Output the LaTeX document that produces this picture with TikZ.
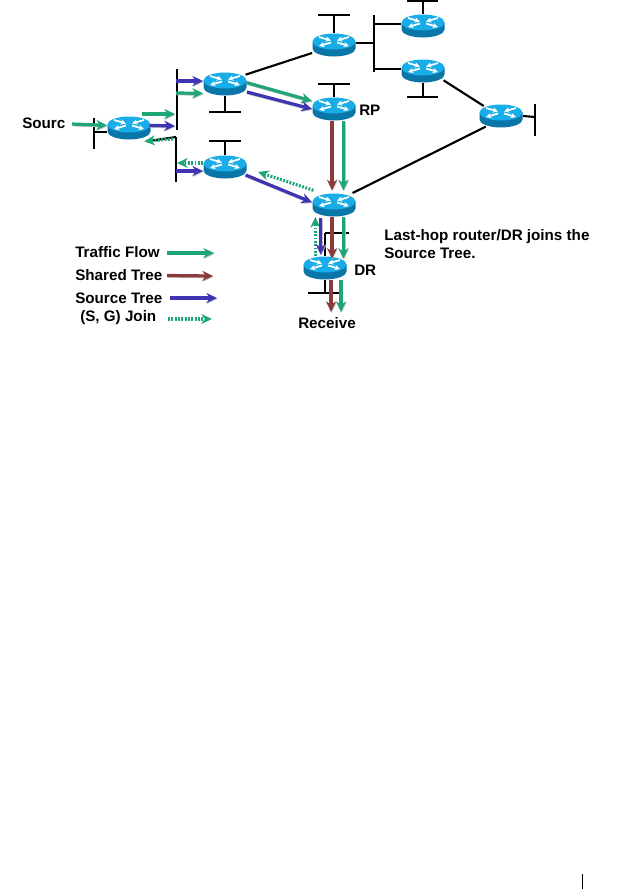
\documentclass[tikz,border=0pt]{standalone}
\usepackage{fontspec}
\setmainfont{Liberation Sans}
\usetikzlibrary{arrows.meta}
\definecolor{flowgreen}{RGB}{30,165,120}
\definecolor{treebrown}{RGB}{140,58,58}
\definecolor{treeblue}{RGB}{62,52,180}
\definecolor{routertop}{RGB}{24,172,232}
\definecolor{routerside}{RGB}{10,118,168}
\begin{document}
\begin{tikzpicture}[
    x=0.75pt, y=-0.75pt,
    font=\fontsize{11.4}{13.5}\selectfont\bfseries,
    xarrow/.style={white, line width=1.3pt, -{Stealth[length=4pt,width=4pt]}},
    router/.style={
        rectangle, minimum width=32.5pt, minimum height=17.5pt, inner sep=0pt,
        path picture={
            \begin{scope}[shift={(path picture bounding box.center)}]
            \fill[routerside] (-21.5,-3.5) -- (-21.5,3.5) arc[x radius=21.5, y radius=8, start angle=180, end angle=0] -- (21.5,-3.5) -- cycle;
            \fill[routertop] (0,-3.5) ellipse[x radius=21.5, y radius=8];
            \draw[xarrow] (-15,-8) -- (-3,-4.5);
            \draw[xarrow] (15,-8) -- (3,-4.5);
            \draw[xarrow] (-3,-2.5) -- (-15,1);
            \draw[xarrow] (3,-2.5) -- (15,1);
            \end{scope}
        }
    },
    bus/.style={draw=black, line width=1.6pt},
    flow/.style={line width=2.4pt, -{Stealth[length=8pt,width=7.5pt]},
        preaction={draw=black!25, line width=2.4pt, -{Stealth[length=8pt,width=7.5pt]},
            transform canvas={xshift=0.5pt,yshift=-0.6pt}}},
    traffic/.style={flow, draw=flowgreen},
    shared/.style={flow, draw=treebrown},
    source/.style={flow, draw=treeblue},
    sgjoin/.style={draw=flowgreen, line width=2.4pt, dash pattern=on 1.4pt off 1.1pt,
        -{Stealth[length=8pt,width=7.5pt,fill=flowgreen]}},
    label/.style={inner sep=0pt, anchor=west}
]
\useasboundingbox (0,0) rectangle (641,889);

% Bus segments, end points
\coordinate (b0a) at (94,118);   \coordinate (b0b) at (94,149);   \coordinate (b0s) at (94,132);
\coordinate (b1a) at (177,69);   \coordinate (b1b) at (177,130);
\coordinate (b2a) at (176,137);  \coordinate (b2b) at (176,182);
\coordinate (b3a) at (209,112);  \coordinate (b3b) at (241,112);  \coordinate (b3s) at (225,112);
\coordinate (b4a) at (209,141);  \coordinate (b4b) at (241,141);  \coordinate (b4s) at (225,141);
\coordinate (b5a) at (318,15);   \coordinate (b5b) at (350,15);   \coordinate (b5s) at (334,15);
\coordinate (b6a) at (318,84);   \coordinate (b6b) at (350,84);   \coordinate (b6s) at (334,84);
\coordinate (b7a) at (374,15);   \coordinate (b7b) at (374,72);
\coordinate (b7t) at (374,24);   \coordinate (b7c) at (374,43);   \coordinate (b7m) at (374,69);
\coordinate (b8a) at (407,0.7);  \coordinate (b8b) at (438,0.7);  \coordinate (b8s) at (423,0.7);
\coordinate (b9a) at (407,97);   \coordinate (b9b) at (438,97);   \coordinate (b9s) at (423,97);
\coordinate (b10a) at (535,104); \coordinate (b10b) at (535,136); \coordinate (b10s) at (535,117);
\coordinate (b11a) at (325,233); \coordinate (b11b) at (349,233); \coordinate (b11c) at (325,256);
\coordinate (b12a) at (308,293); \coordinate (b12b) at (340,293); \coordinate (b12s) at (325,293);

% Bus lines
\draw[bus] (b0a) -- (b0b);
\draw[bus] (b1a) -- (b1b);
\draw[bus] (b2a) -- (b2b);
\draw[bus] (b3a) -- (b3b);
\draw[bus] (b4a) -- (b4b);
\draw[bus] (b5a) -- (b5b);
\draw[bus] (b6a) -- (b6b);
\draw[bus] (b7a) -- (b7b);
\draw[bus] (b8a) -- (b8b);
\draw[bus] (b9a) -- (b9b);
\draw[bus] (b10a) -- (b10b);
\draw[bus] (b11a) -- (b11b);
\draw[bus] (b11a) -- (b11c);
\draw[bus] (b12a) -- (b12b);

% Routers
\node[router] (r0) at (129,128) {};
\node[router] (r1) at (225,84)  {};
\node[router] (r2) at (225,167) {};
\node[router] (r3) at (334,45)  {};
\node[router] (rp) at (334,109) {};
\node[router] (r4) at (423,26)  {};
\node[router] (r5) at (423,71)  {};
\node[router] (r6) at (501,116) {};
\node[router] (r7) at (334,205) {};
\node[router] (dr) at (325,268) {};

% Black links
\draw[bus] (b0s) -- (b0s -| r0.west);
\draw[bus] (b2a) -- ([xshift=-3pt,yshift=-1pt]r0.south east);
\draw[bus] (b3s) -- (r1.south);
\draw[bus] (b4s) -- (r2.north);
\draw[bus] (b5s) -- (r3.north);
\draw[bus] (b6s) -- (rp.north);
\draw[bus] (b8s) -- (r4.north);
\draw[bus] (b9s) -- (r5.south);
\draw[bus] (b10s) -- (r6.east);
\draw[bus] (b7c) -- (b7c -| r3.east);
\draw[bus] (b7t) -- (b7t -| r4.west);
\draw[bus] (b7m) -- (b7m -| r5.west);
\draw[bus] (b12s) -- (dr.south);
\draw[bus] ([xshift=-1pt,yshift=7pt]r1.east) -- ([yshift=-6pt]r3.west);
\draw[bus] ([xshift=-1pt,yshift=-7pt]r5.east) -- ([xshift=3.5pt,yshift=7.5pt]r6.west);
\draw[bus] ([xshift=5pt,yshift=-8pt]r6.west) -- ([xshift=-2.5pt,yshift=9pt]r7.east);

% Flow arrows on the left
\coordinate (srcs) at (72,124);
\coordinate (g0a) at (142,114);  \coordinate (g0b) at (175,114);
\coordinate (u0b) at (175,126);
\coordinate (j0a) at (173,139);
\coordinate (u1a) at (176,81);
\coordinate (g1a) at (176,93);
\coordinate (j2b) at (177,163);
\coordinate (u2a) at (176,171);
\draw[traffic] (srcs) -- ([yshift=2pt]r0.west);
\draw[traffic] (g0a) -- (g0b);
\draw[source] ([xshift=-1pt,yshift=2pt]r0.east) -- (u0b);
\draw[sgjoin] (j0a) -- ([xshift=-5pt,yshift=-1pt]r0.south east);
\draw[source] (u1a) -- (u1a -| r1.west);
\draw[traffic] (g1a) -- ([yshift=-7pt]r1.west);
\draw[sgjoin] ([yshift=3pt]r2.west) -- (j2b);
\draw[source] (u2a) -- (u2a -| r2.west);

% Towards RP and the last-hop router
\draw[traffic] ([yshift=1pt]r1.east) -- ([yshift=6pt]rp.west);
\draw[source] ([yshift=-6pt]r1.east) -- (rp.west);
\draw[shared] ([xshift=-1.5pt]rp.south) -- ([xshift=-1.5pt,yshift=2pt]r7.north);
\draw[traffic] ([xshift=7pt]rp.south) -- ([xshift=7pt,yshift=2pt]r7.north);
\draw[source] ([xshift=-1pt,yshift=-6pt]r2.east) -- ([yshift=2pt]r7.west);
\coordinate (j7b) at (258,172);
\draw[sgjoin] ([yshift=11pt,xshift=1pt]r7.west) -- (j7b);

% Between last-hop router and DR
\draw[sgjoin] ([xshift=-14pt]dr.north -| r7.south) -- ([xshift=-14pt]r7.south);
\draw[source] ([xshift=-10pt,yshift=-1pt]r7.south) -- ([xshift=-10pt,yshift=1pt]r7.south |- dr.north);
\draw[shared] ([xshift=-1.5pt]r7.south) -- ([xshift=-1.5pt,yshift=-2pt]r7.south |- dr.north);
\draw[traffic] ([xshift=7pt]r7.south) -- ([xshift=7pt,yshift=-2pt]r7.south |- dr.north);

% Receiver
\coordinate (rxb) at (331,312);
\coordinate (rxg) at (341,312);
\draw[shared] (rxb |- dr.south) -- (rxb);
\draw[traffic] (rxg |- dr.south) -- (rxg);

% Labels
\node[label] (lsrc) at (22,123)  {Sourc};
\node[label] (lrp) at (359,110)  {RP};
\node[label] (ldr) at (354,270)  {DR};
\node[inner sep=0pt] (lrx) at (327,323) {Receive};
\node[label, align=left] (lnote) at (384,244) {Last-hop router/DR joins the\\Source Tree.};

% Legend
\node[label] (k1) at (75,252) {Traffic Flow};
\node[label] (k2) at (75,275) {Shared Tree};
\node[label] (k3) at (75,298) {Source Tree};
\node[label] (k4) at (80,318) {(S, G) Join};
\coordinate (k1e) at (214,253);
\coordinate (k2e) at (213,276);
\coordinate (k3e) at (217,298);
\coordinate (k4e) at (212,319);
\draw[traffic] (167,253) -- (k1e);
\draw[shared] (167,275.5) -- (k2e);
\draw[source] (170,298) -- (k3e);
\draw[sgjoin] (168,319) -- (k4e);

% Page rule
\coordinate (pga) at (582,874);
\coordinate (pgb) at (582,889);
\draw[black, line width=0.6pt] (pga) -- (pgb);

\end{tikzpicture}
\end{document}
